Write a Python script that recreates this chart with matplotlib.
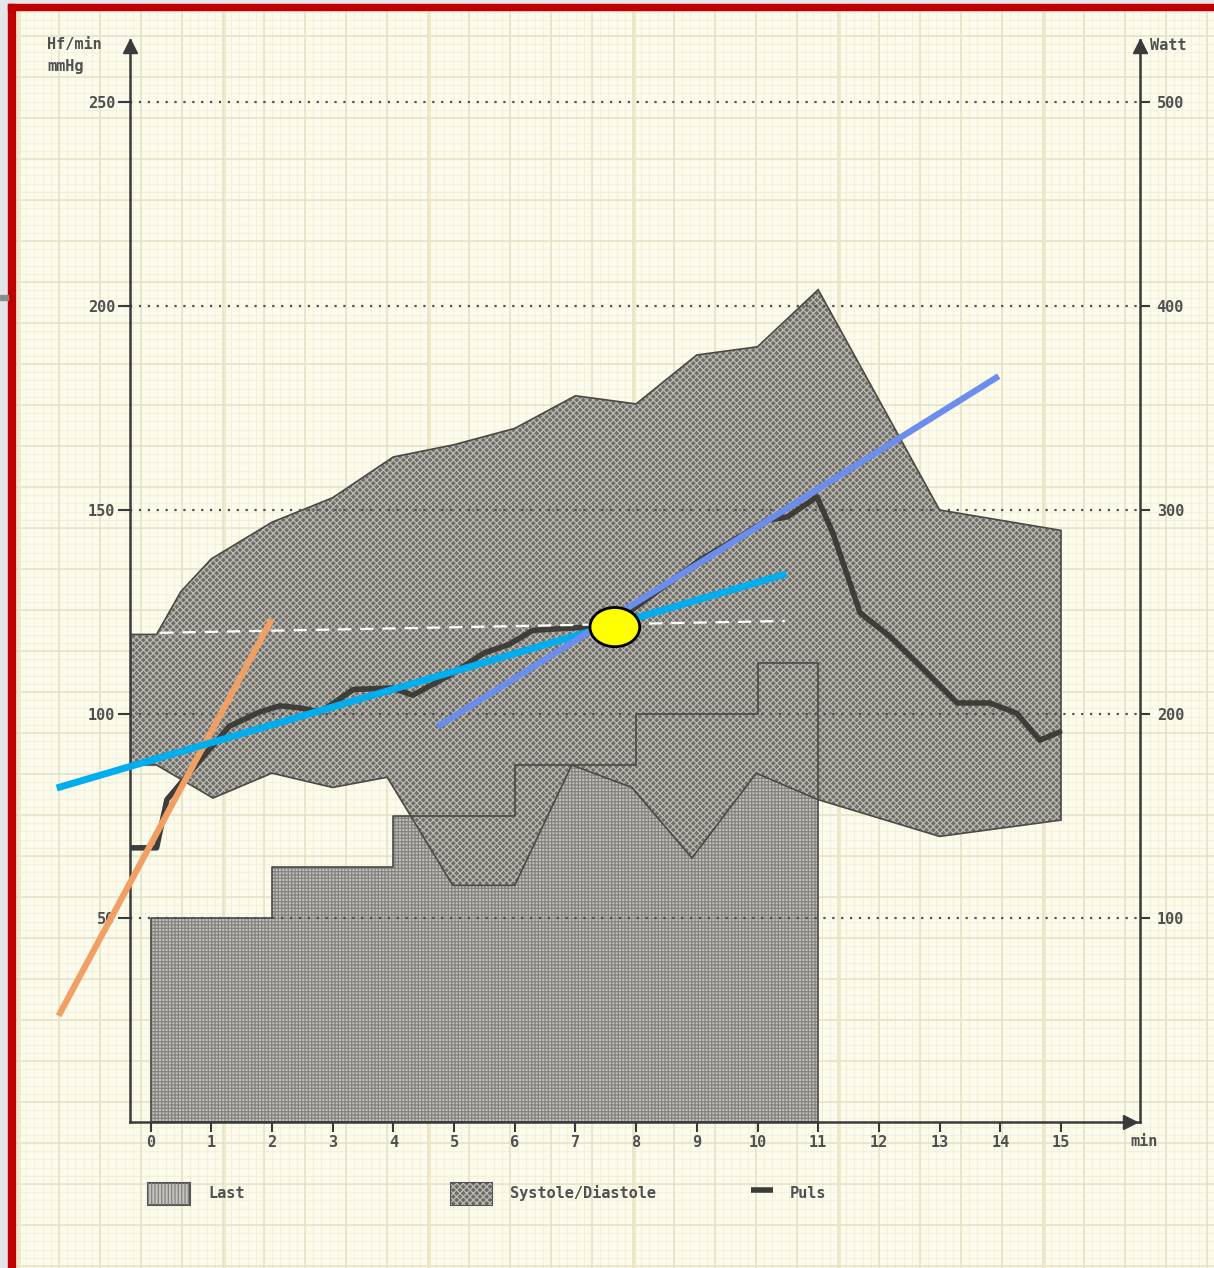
import matplotlib.pyplot as plt
from matplotlib.patches import Rectangle, Ellipse
import numpy as np

plt.rcParams['font.family'] = 'DejaVu Sans Mono'
plt.rcParams['font.weight'] = 'bold'
plt.rcParams['hatch.linewidth'] = 0.9

# --- data ---
# blood pressure band (mmHg)
t_sys = [-0.34, 0.1, 0.5, 1, 2, 3, 4, 5, 6, 7, 8, 9, 10, 11, 13, 15]
systole = [119.5, 119.5, 130, 138, 147, 153, 163, 166, 170, 178, 176, 188, 190, 204, 150, 145]
t_dia = [-0.34, 0.1, 1.03, 2, 3, 3.9, 4.98, 6, 6.94, 7.93, 8.92, 9.98, 11, 13, 15]
diastole = [87.5, 87.5, 79.4, 85.5, 82, 84.5, 58, 58, 87.5, 82, 64.7, 85.5, 79, 70, 74]

# pulse (Hf/min)
t_puls = [-0.34, 0.1, 0.27, 0.82, 1.3, 1.8, 2.13, 2.46, 2.8, 3.34, 3.98, 4.32, 4.93,
          5.5, 5.9, 6.3, 7.19, 7.93, 9.05, 10.16, 10.49, 10.98, 11.24, 11.69, 12.18,
          12.63, 13.29, 13.83, 14.27, 14.65, 14.98]
puls = [67.2, 67.2, 79, 88.7, 97, 100.5, 102, 101.5, 100.5, 106, 106.4, 104.6, 109.5,
        115, 117, 120.5, 121.3, 125.5, 137.7, 147.5, 148.3, 153.2, 144.4, 124.8, 119,
        112.5, 102.7, 102.7, 100.2, 93.6, 95.6]

# load steps (Watt)
last_t = [0, 2, 4, 6, 8, 10, 11]
last_watt = [100, 125, 150, 175, 200, 225, 225]

# drawn-over annotations
orange_t, orange_v = [-1.49, 1.97], [26.7, 122.5]
cyan_t, cyan_v = [-1.49, 10.42], [82.1, 134.1]
blue_t, blue_v = [4.77, 13.93], [97.3, 182.4]
dash_t, dash_v = [0.16, 10.45], [119.9, 122.8]
point_t, point_v = 7.65, 121.3

x_ticks = list(range(16))
hf_ticks = [50, 100, 150, 200, 250]
watt_ticks = [100, 200, 300, 400, 500]

def watt_to_hf(w):
    return np.asarray(w) / 2.0

def hf_to_watt(v):
    return np.asarray(v) * 2.0

W, H = 1214, 1268
fig = plt.figure(figsize=(W / 100, H / 100), dpi=100)

# --- graph paper background (pixel coordinates) ---
bg = fig.add_axes([0, 0, 1, 1], zorder=-1)
bg.set_xlim(0, W)
bg.set_ylim(H, 0)
bg.axis('off')
bg.add_patch(Rectangle((0, 0), W, H, color='#FCFBEC', zorder=0))
bg.vlines(np.arange(18 - 41, W, 8.2), 0, H, colors='#F3F0DC', lw=0.8, zorder=0.1)
bg.hlines(np.arange(36 - 41, H, 8.2), 0, W, colors='#F3F0DC', lw=0.8, zorder=0.1)
bg.vlines(np.arange(18, W, 41), 0, H, colors='#E6E2C8', lw=1.1, zorder=0.2)
bg.hlines(np.arange(36, H, 41), 0, W, colors='#E6E2C8', lw=1.1, zorder=0.2)
bg.vlines(np.arange(20, W, 205), 0, H, colors='#EFE9C6', lw=1.3, zorder=0.3)
# frame of the screenshot
bg.add_patch(Rectangle((0, 0), 8, H, color='#E3E5E9', zorder=1))
bg.add_patch(Rectangle((0, 0), W, 4, color='#E3E5E9', zorder=1))
bg.add_patch(Rectangle((8, 4), 7, H, color='#C00000', zorder=2))
bg.add_patch(Rectangle((8, 4), W, 6, color='#C00000', zorder=2))
bg.add_patch(Rectangle((0, 295), 8, 5, color='#8C8C8C', zorder=2))

txt = dict(color='#505050', fontsize=11, fontweight='bold')
bg.text(47, 45, 'Hf/min', va='center', ha='left', **txt)
bg.text(47, 66, 'mmHg', va='center', ha='left', **txt)
bg.text(1150, 45, 'Watt', va='center', ha='left', **txt)
bg.text(1130, 1141, 'min', va='center', ha='left', **txt)

# legend
bg.add_patch(Rectangle((148, 1183), 42, 22, facecolor='#C4C2BC', edgecolor='#555555',
                       lw=1.5, zorder=3))
bg.add_patch(Rectangle((148, 1183), 42, 22, facecolor='none', edgecolor='#858380',
                       hatch='|||||', lw=0, zorder=3.1))
bg.text(208, 1193, 'Last', va='center', ha='left', **txt)
bg.add_patch(Rectangle((451, 1183), 41, 22, facecolor='#6C6B66', edgecolor='#555555',
                       lw=1.5, zorder=3))
bg.add_patch(Rectangle((451, 1183), 41, 22, facecolor='none', edgecolor='#BDBBB4',
                       hatch='xxxxx', lw=0, zorder=3.1))
bg.text(510, 1193, 'Systole/Diastole', va='center', ha='left', **txt)
bg.plot([751, 773], [1190, 1190], color='#3C3B36', lw=4, solid_capstyle='butt')
bg.text(790, 1193, 'Puls', va='center', ha='left', **txt)

# --- main chart ---
px_per_min = 60.7
t0_px = 150.5
x_left = (130 - t0_px) / px_per_min
x_right = (1140 - t0_px) / px_per_min
y_top = (1122 - 40) / 4.08

ax = fig.add_axes([130 / W, (H - 1122) / H, 1010 / W, 1082 / H])
ax.set_facecolor('none')
ax.set_xlim(x_left, x_right)
ax.set_ylim(0, y_top)

axc = '#3A3A3A'
for s in ['top', 'right']:
    ax.spines[s].set_visible(False)
for s in ['left', 'bottom']:
    ax.spines[s].set_color(axc)
    ax.spines[s].set_linewidth(1.8)

ax.set_xticks(x_ticks)
ax.set_yticks(hf_ticks)
ax.tick_params(axis='x', direction='out', length=7, width=1.5, color=axc, pad=2.5,
               labelsize=11, labelcolor='#505050')
ax.tick_params(axis='y', direction='out', length=8.5, width=1.5, color=axc, pad=2,
               labelsize=11, labelcolor='#505050')

sec = ax.secondary_yaxis('right', functions=(hf_to_watt, watt_to_hf))
sec.set_yticks(watt_ticks)
sec.spines['right'].set_color(axc)
sec.spines['right'].set_linewidth(1.8)
sec.tick_params(axis='y', direction='out', length=7, width=1.5, color=axc, pad=5,
                labelsize=11, labelcolor='#505050')

# axis arrow heads
ax.plot([x_left], [y_top - 1.5], marker='^', ms=10, color=axc, clip_on=False, zorder=10)
ax.plot([x_right], [y_top - 1.5], marker='^', ms=10, color=axc, clip_on=False, zorder=10)
ax.plot([(1130 - t0_px) / px_per_min], [0], marker='>', ms=10, color=axc,
        clip_on=False, zorder=10)

# load
last_hf = watt_to_hf(last_watt)
ax.fill_between(last_t, 0, last_hf, step='post', facecolor='#C4C2BC', lw=0, zorder=1)
ax.fill_between(last_t, 0, last_hf, step='post', facecolor='none', edgecolor='#858380',
                hatch='+++++', lw=0, zorder=1.1)

# blood pressure band
band_x = t_sys + t_dia[::-1]
band_y = systole + diastole[::-1]
ax.fill(band_x, band_y, facecolor='#6E6D67', lw=0, zorder=2)
ax.fill(band_x, band_y, facecolor='none', edgecolor='#BCBAB2', hatch='xxxxx', lw=0,
        zorder=2.1)
ax.fill(band_x, band_y, facecolor='none', edgecolor='#4A4944', lw=1.2, zorder=2.2)
ax.fill_between(last_t, 0, last_hf, step='post', facecolor='none', edgecolor='#4A4A46',
                lw=1.2, zorder=2.3)

# dotted reference lines
ax.hlines(hf_ticks, x_left, x_right, colors='#505050', lw=1.6,
          linestyles=(0, (1, 3)), zorder=2.5)

# pulse
ax.plot(t_puls, puls, color='#3E3D37', lw=4, solid_joinstyle='round',
        solid_capstyle='round', zorder=3)

# annotations
ax.plot(dash_t, dash_v, color='white', lw=1.6, ls=(0, (6, 4)), zorder=4)
ax.plot(orange_t, orange_v, color='#F0A064', lw=4.5, clip_on=False, zorder=5)
ax.plot(cyan_t, cyan_v, color='#00AEEF', lw=5, clip_on=False, zorder=5.1)
ax.plot(blue_t, blue_v, color='#6B8DEE', lw=4.5, clip_on=False, zorder=5.2)
ax.add_patch(Ellipse((point_t, point_v), 0.82, 9.6, facecolor='#FFFF00',
                     edgecolor='black', lw=2, zorder=6))

fig.savefig('out.png', dpi=100)
